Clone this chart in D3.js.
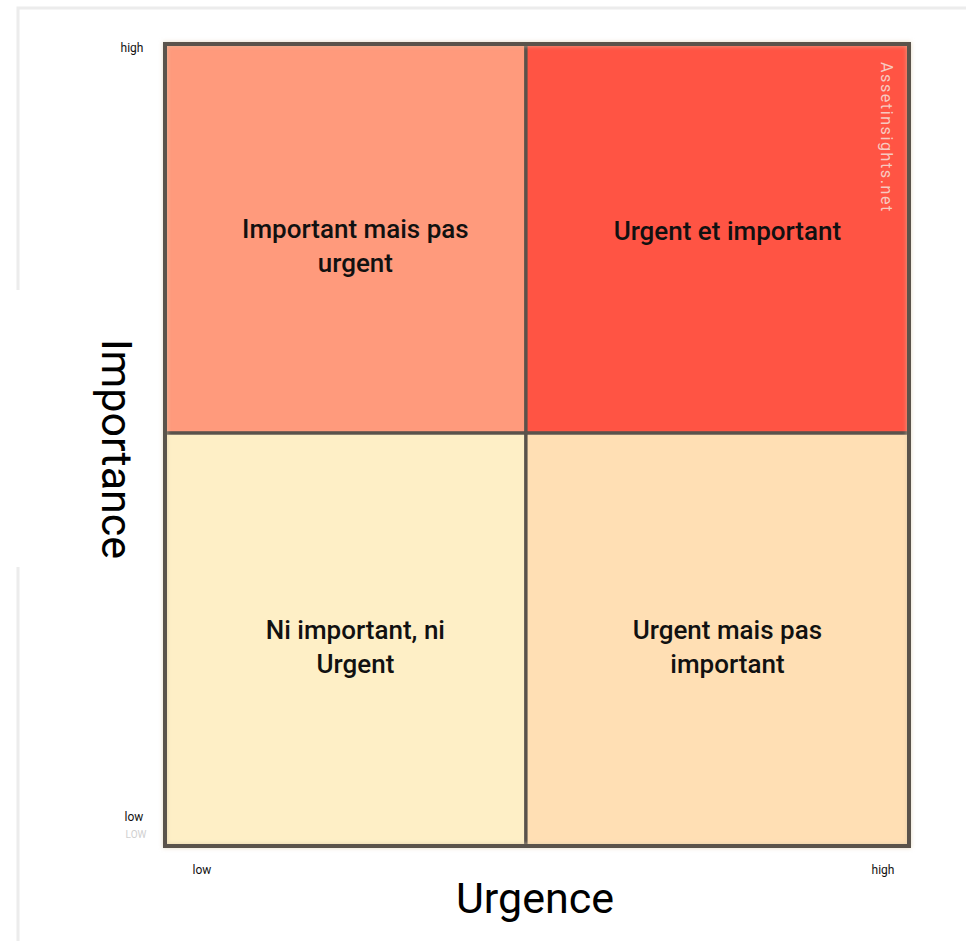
<!DOCTYPE html>
<html>
<head>
<meta charset="utf-8">
<script src="https://cdn.jsdelivr.net/npm/d3@7"></script>
<style>
  html, body { margin: 0; padding: 0; background: #fff; }
  svg { display: block; font-family: Roboto, "Noto Sans", sans-serif; }
  .q-label { font-size: 26px; font-weight: 500; fill: #111; }
  .tick-lbl { font-size: 12px; fill: #111; }
  .axis-title { font-size: 43px; fill: #000; }
</style>
</head>
<body>
<div id="chart"></div>
<script>
// urgency (x) and importance (y) levels, with the split point of each axis
const urgence = ["low", "high"];
const importance = ["high", "low"];
const urgenceBreaks = [0, 0.485, 1];      // low | high
const importanceBreaks = [1, 0.515, 0];   // high | low (top to bottom)
// quadrants
const quadrants = [
  { u: 0, i: 0, lines: ["Important mais pas", "urgent"] },
  { u: 1, i: 0, lines: ["Urgent et important"] },
  { u: 0, i: 1, lines: ["Ni important, ni", "Urgent"] },
  { u: 1, i: 1, lines: ["Urgent mais pas", "important"] }
];
const quadColors = ["#ff9a7c", "#ff5444", "#feefc6", "#ffdfb4"];
const xTitle = "Urgence";
const yTitle = "Importance";
const watermark = "Assetinsights.net";

const W = 966, H = 941;
const m = { top: 44, right: 57, bottom: 95, left: 165 };

const svg = d3.select("#chart").append("svg").attr("width", W).attr("height", H);

// faint page frame
svg.append("rect").attr("x", 18).attr("y", 8).attr("width", W).attr("height", H)
  .attr("fill", "none").attr("stroke", "#ececec").attr("stroke-width", 3);
svg.append("rect").attr("x", 0).attr("y", 290).attr("width", 150).attr("height", 277).attr("fill", "#fff");

const x = d3.scaleLinear().domain([0, 1]).range([m.left, W - m.right]);
const y = d3.scaleLinear().domain([0, 1]).range([H - m.bottom, m.top]);

const qx0 = d => x(urgenceBreaks[d.u]), qx1 = d => x(urgenceBreaks[d.u + 1]);
const qy0 = d => y(importanceBreaks[d.i]), qy1 = d => y(importanceBreaks[d.i + 1]);

// drop shadow
const defs = svg.append("defs");
const f = defs.append("filter").attr("id", "sh").attr("x", "-5%").attr("y", "-5%").attr("width", "110%").attr("height", "110%");
f.append("feDropShadow").attr("dx", 0).attr("dy", 0).attr("stdDeviation", 2).attr("flood-color", "#d9c9a8").attr("flood-opacity", 0.7);

const g = svg.append("g");
g.selectAll("rect.q").data(quadrants).join("rect").attr("class", "q")
  .attr("x", qx0).attr("y", qy0)
  .attr("width", d => qx1(d) - qx0(d)).attr("height", d => qy1(d) - qy0(d))
  .attr("fill", (d, i) => quadColors[i]);

// grid borders
g.selectAll("rect.b").data(quadrants).join("rect").attr("class", "b")
  .attr("x", qx0).attr("y", qy0)
  .attr("width", d => qx1(d) - qx0(d)).attr("height", d => qy1(d) - qy0(d))
  .attr("fill", "none").attr("stroke", "#5a524b").attr("stroke-width", 3);
g.append("rect").attr("x", m.left).attr("y", m.top)
  .attr("width", W - m.left - m.right).attr("height", H - m.top - m.bottom)
  .attr("fill", "none").attr("stroke", "#5a524b").attr("stroke-width", 4).attr("filter", "url(#sh)");

// quadrant labels
quadrants.forEach(d => {
  const cx = (qx0(d) + qx1(d)) / 2 + 10;
  const cy = (qy0(d) + qy1(d)) / 2 + (d.lines.length > 1 ? 7 : -8);
  const lh = 34;
  const t = g.append("text").attr("class", "q-label").attr("text-anchor", "middle");
  d.lines.forEach((ln, k) => {
    t.append("tspan").attr("x", cx)
      .attr("y", cy - (d.lines.length - 1) * lh / 2 + k * lh)
      .attr("dy", "0.35em").text(ln);
  });
});

// watermark
svg.append("text")
  .attr("transform", `translate(${x(1) - 22},62) rotate(90)`)
  .attr("font-size", 16).attr("fill", "#f7c9c0").attr("letter-spacing", 1.6)
  .attr("dy", "0.35em").text(watermark);

// low / high tick labels
svg.append("text").attr("class", "tick-lbl").attr("x", 132).attr("y", y(1) + 4)
  .attr("text-anchor", "middle").attr("dy", "0.35em").text(importance[0]);
svg.append("text").attr("class", "tick-lbl").attr("x", 134).attr("y", y(0) - 29)
  .attr("text-anchor", "middle").attr("dy", "0.35em").text(importance[1]);
svg.append("text").attr("x", 136).attr("y", y(0) - 12)
  .attr("text-anchor", "middle").attr("dy", "0.35em").attr("font-size", 10)
  .attr("fill", "#d0d0d0").text(importance[1].toUpperCase());
svg.append("text").attr("class", "tick-lbl").attr("x", x(0) + 37).attr("y", y(0) + 24)
  .attr("text-anchor", "middle").attr("dy", "0.35em").text(urgence[0]);
svg.append("text").attr("class", "tick-lbl").attr("x", x(1) - 26).attr("y", y(0) + 24)
  .attr("text-anchor", "middle").attr("dy", "0.35em").text(urgence[1]);

// axis titles
svg.append("text").attr("class", "axis-title").attr("text-anchor", "middle")
  .attr("x", 535).attr("y", 898).attr("dy", "0.35em").text(xTitle);
svg.append("text").attr("class", "axis-title").attr("text-anchor", "middle")
  .attr("transform", "translate(117,449) rotate(90)").attr("dy", "0.35em").text(yTitle);
</script>
</body>
</html>
